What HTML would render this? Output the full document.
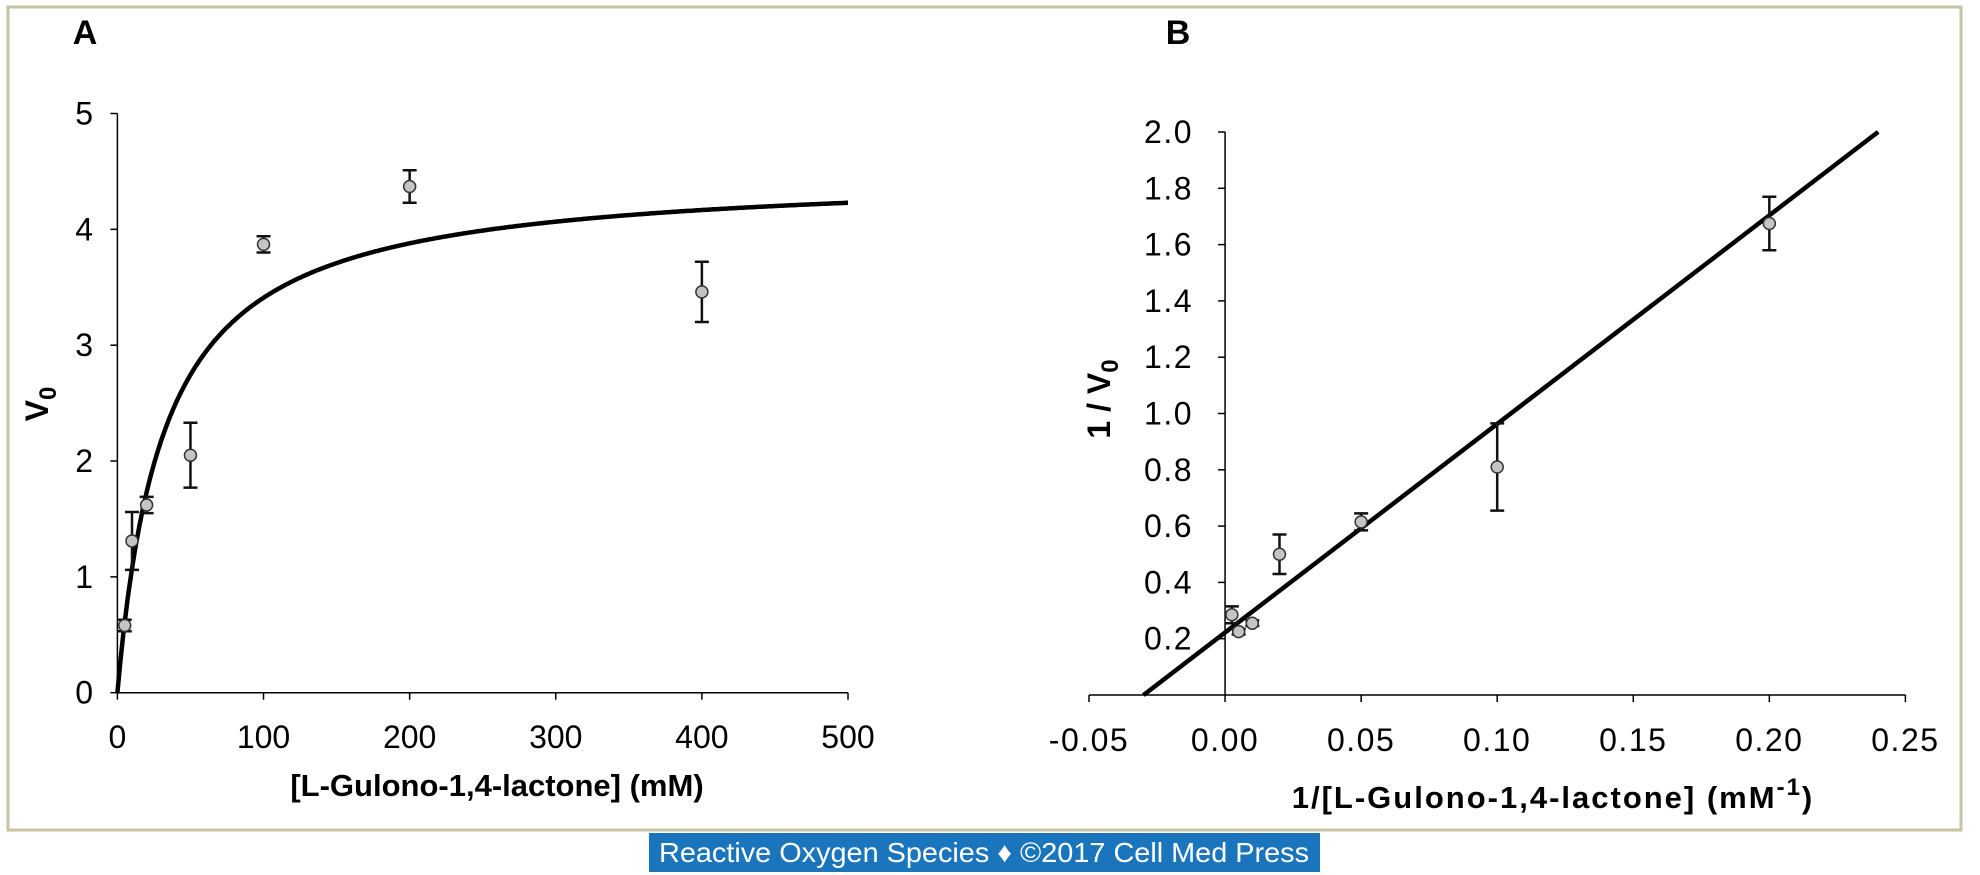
<!DOCTYPE html>
<html><head><meta charset="utf-8"><style>
html,body{margin:0;padding:0;background:#fff;}
svg{display:block;font-family:"Liberation Sans",sans-serif;}
</style></head><body>
<svg id="fig" width="1980" height="875" viewBox="0 0 1980 875">
<rect x="8" y="7" width="1953" height="823" fill="none" stroke="#c9c2a3" stroke-width="3"/>
<rect x="649" y="833" width="671" height="39" fill="#1b75bc"/>
<text x="984" y="862" fill="#fff" font-size="28" text-anchor="middle" textLength="650" lengthAdjust="spacingAndGlyphs">Reactive Oxygen Species ♦ ©2017 Cell Med Press</text>
<text x="85" y="44" font-size="34" font-weight="bold" text-anchor="middle">A</text>
<text x="1178" y="44" font-size="34" font-weight="bold" text-anchor="middle">B</text>
<g id="ga"></g>
<g id="gb"></g>
</svg>
<script>
// Chart A data
const aX = [5, 10, 20, 50, 100, 200, 400];
const aY = [0.58, 1.31, 1.62, 2.05, 3.87, 4.37, 3.46];
const aErr = [0.05, 0.25, 0.07, 0.28, 0.07, 0.14, 0.26];
const aXTicks = [0, 100, 200, 300, 400, 500];
const aYTicks = [0, 1, 2, 3, 4, 5];
const aVmax = 4.5;
const aKm = 32;
// Chart B data
const bX = [0.0025, 0.005, 0.01, 0.02, 0.05, 0.1, 0.2];
const bY = [0.285, 0.225, 0.255, 0.50, 0.615, 0.81, 1.675];
const bErr = [0.03, 0.01, 0.01, 0.07, 0.03, 0.155, 0.095];
const bXTicks = ["-0.05", "0.00", "0.05", "0.10", "0.15", "0.20", "0.25"];
const bYTicks = ["0.2", "0.4", "0.6", "0.8", "1.0", "1.2", "1.4", "1.6", "1.8", "2.0"];
const bLine = [-0.03, 0.24];
const bSlope = 7.41;
const bIntercept = 0.222;

const NS = "http://www.w3.org/2000/svg";
function mk(parent, tag, attrs, text) {
  const e = document.createElementNS(NS, tag);
  for (const k in attrs) e.setAttribute(k, attrs[k]);
  if (text !== undefined) e.textContent = text;
  parent.appendChild(e);
  return e;
}
function errBars(g, xs, ys, es, sx, sy, name) {
  xs.forEach((x, i) => {
    const cx = sx(x), t = sy(ys[i] + es[i]), b = sy(ys[i] - es[i]);
    const e = mk(g, "path", {d: `M${cx},${t}V${b}M${cx-7},${t}H${cx+7}M${cx-7},${b}H${cx+7}`, stroke: "#111", "stroke-width": 2.5, fill: "none"});
    
    
  });
}
function points(g, xs, ys, sx, sy, name) {
  xs.forEach((x, i) => {
    const c = mk(g, "circle", {cx: sx(x), cy: sy(ys[i]), r: 6, fill: "#c4c4c4", stroke: "#333", "stroke-width": 1.5});
    
    
  });
}

// ---- Chart A ----
(function(){
  const g = document.getElementById("ga");
  const X0 = 117.4, X1 = 848, Y0 = 692.7, Y1 = 113.5;
  const sx = v => X0 + (v - 0) / 500 * (X1 - X0);
  const sy = v => Y0 - v / 5 * (Y0 - Y1);
  let ax = mk(g, "line", {x1: X0, y1: Y0, x2: X1, y2: Y0, stroke: "#000", "stroke-width": 1.5});
   
  let ay = mk(g, "line", {x1: X0, y1: Y0, x2: X0, y2: Y1, stroke: "#000", "stroke-width": 1.5});
   
  aXTicks.forEach(t => {
    mk(g, "line", {x1: sx(t), y1: Y0, x2: sx(t), y2: Y0 + 7, stroke: "#000", "stroke-width": 1.5});
    const l = mk(g, "text", {x: sx(t), y: 748, "font-size": 32, "text-anchor": "middle"}, String(t));
     
  });
  aYTicks.forEach(t => {
    mk(g, "line", {x1: X0 - 7, y1: sy(t), x2: X0, y2: sy(t), stroke: "#000", "stroke-width": 1.5});
    const l = mk(g, "text", {x: 93, y: sy(t) + 11, "font-size": 32, "text-anchor": "end"}, String(t));
     
  });
  let d = "";
  for (let s = 0; s <= 500; s += 1) d += (s ? "L" : "M") + sx(s).toFixed(1) + "," + sy(aVmax * s / (aKm + s)).toFixed(1);
  const c = mk(g, "path", {d, fill: "none", stroke: "#000", "stroke-width": 4.5});
   
  errBars(g, aX, aY, aErr, sx, sy, "a");
  points(g, aX, aY, sx, sy, "a");
  const xt = mk(g, "text", {x: 497, y: 796, "font-size": 31, "font-weight": "bold", "text-anchor": "middle"}, "[L-Gulono-1,4-lactone] (mM)");
   
  const yt = mk(g, "text", {transform: "translate(48,404) rotate(-90)", "font-size": 32, "font-weight": "bold", "text-anchor": "middle"});
  yt.innerHTML = 'V<tspan font-size="24" dy="8">0</tspan>';
   
})();

// ---- Chart B ----
(function(){
  const g = document.getElementById("gb");
  const X0 = 1089, X1 = 1905.4, Y0 = 695, Y1 = 132;
  const sx = v => X0 + (v + 0.05) / 0.30 * (X1 - X0);
  const sy = v => Y0 - v / 2 * (Y0 - Y1);
  let ax = mk(g, "line", {x1: X0, y1: Y0, x2: X1, y2: Y0, stroke: "#000", "stroke-width": 1.5});
   
  let ay = mk(g, "line", {x1: sx(0), y1: Y0, x2: sx(0), y2: Y1, stroke: "#000", "stroke-width": 1.5});
   
  bXTicks.forEach(t => {
    const v = parseFloat(t);
    mk(g, "line", {x1: sx(v), y1: Y0, x2: sx(v), y2: Y0 + 7, stroke: "#000", "stroke-width": 1.5});
    const l = mk(g, "text", {x: sx(v), y: 751, "font-size": 32, "text-anchor": "middle", "letter-spacing": "1.5"}, t);
     
  });
  bYTicks.forEach(t => {
    const v = parseFloat(t);
    mk(g, "line", {x1: sx(0) - 7, y1: sy(v), x2: sx(0), y2: sy(v), stroke: "#000", "stroke-width": 1.5});
    const l = mk(g, "text", {x: 1193, y: sy(v) + 11, "font-size": 32, "text-anchor": "end", "letter-spacing": "1.5"}, t);
     
  });
  const ln = mk(g, "line", {x1: sx(bLine[0]), y1: sy(bSlope * bLine[0] + bIntercept), x2: sx(bLine[1]), y2: sy(bSlope * bLine[1] + bIntercept), stroke: "#000", "stroke-width": 4.5});
   
  errBars(g, bX, bY, bErr, sx, sy, "b");
  points(g, bX, bY, sx, sy, "b");
  const xt = mk(g, "text", {x: 1553, y: 808, "font-size": 31, "font-weight": "bold", "text-anchor": "middle", "letter-spacing": "2"});
  xt.innerHTML = '1/[L-Gulono-1,4-lactone] (mM<tspan font-size="24" dy="-13">-1</tspan><tspan dy="13">)</tspan>';
   
  const yt = mk(g, "text", {transform: "translate(1110,399) rotate(-90)", "font-size": 32, "font-weight": "bold", "text-anchor": "middle"});
  yt.innerHTML = '1 / V<tspan font-size="24" dy="8">0</tspan>';
   
})();
</script>
</body></html>
